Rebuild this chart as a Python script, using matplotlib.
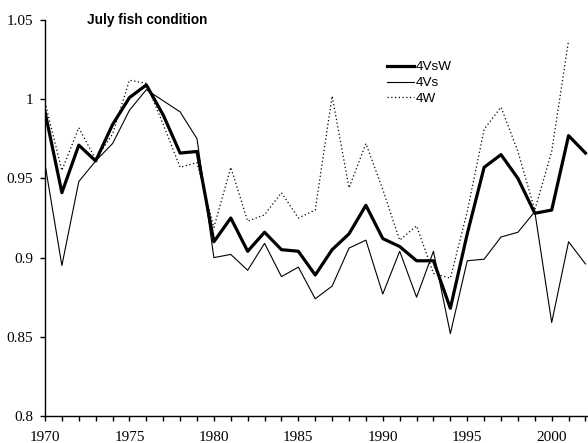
import numpy as np
import matplotlib
matplotlib.use('Agg')
import matplotlib.pyplot as plt
from matplotlib.ticker import MultipleLocator

# dados (condicao dos peixes em julho)
anos = np.arange(1970, 2003)

c_4vsw = [0.992, 0.941, 0.971, 0.961, 0.984, 1.001, 1.009, 0.990, 0.966, 0.967,
          0.910, 0.925, 0.904, 0.916, 0.905, 0.904, 0.889, 0.905, 0.915, 0.933,
          0.912, 0.907, 0.898, 0.898, 0.868, 0.915, 0.957, 0.965, 0.950, 0.928,
          0.930, 0.977, 0.966]

c_4vs = [0.959, 0.895, 0.948, 0.961, 0.972, 0.993, 1.006, 0.999, 0.992, 0.975,
         0.900, 0.902, 0.892, 0.909, 0.888, 0.894, 0.874, 0.882, 0.906, 0.911,
         0.877, 0.904, 0.875, 0.904, 0.852, 0.898, 0.899, 0.913, 0.916, 0.929,
         0.859, 0.910, 0.896]

c_4w = [0.998, 0.955, 0.982, 0.962, 0.978, 1.012, 1.010, 0.984, 0.957, 0.960,
        0.919, 0.957, 0.923, 0.927, 0.941, 0.925, 0.930, 1.002, 0.944, 0.972,
        0.943, 0.911, 0.920, 0.890, 0.887, 0.929, 0.981, 0.995, 0.967, 0.930,
        0.967, 1.037, np.nan]

series_nomes = ['4VsW', '4Vs', '4W']

W, H = 588, 443
fig = plt.figure(figsize=(W / 100, H / 100), dpi=100)
ax = fig.add_axes([45 / W, 27 / H, 543 / W, 396 / H])

ax.plot(anos, c_4vsw, color='black', lw=2.3, label=series_nomes[0])
ax.plot(anos, c_4vs, color='black', lw=0.8, label=series_nomes[1])
ax.plot(anos, c_4w, color='black', lw=0.9, ls=(0, (1, 2)), label=series_nomes[2])

ax.set_xlim(1970, 2002.15)
ax.set_ylim(0.8, 1.05)
ax.set_xticks([1970, 1975, 1980, 1985, 1990, 1995, 2000])
ax.xaxis.set_minor_locator(MultipleLocator(1))
ax.set_yticks([0.8, 0.85, 0.9, 0.95, 1.0, 1.05])
ax.set_yticklabels(['0.8', '0.85', '0.9', '0.95', '1', '1.05'])

for s in ['top', 'right']:
    ax.spines[s].set_visible(False)
for s in ['left', 'bottom']:
    ax.spines[s].set_linewidth(1.0)

ax.tick_params(axis='both', which='both', direction='out', width=1.0,
               labelsize=11, labelfontfamily='Liberation Serif')
ax.tick_params(axis='x', which='both', length=3.5, pad=7.5)
ax.tick_params(axis='y', which='major', length=3.5, pad=5)

# titulo dentro da area do grafico
ax.text(87 / W, 1 - 20 / H, 'July fish condition', transform=fig.transFigure,
        fontsize=9.8, fontweight='bold', family='Liberation Sans',
        ha='left', va='center')

leg = ax.legend(loc='upper left', bbox_to_anchor=(387 / W, 1 - 61 / H),
                bbox_transform=fig.transFigure, frameon=False,
                prop={'family': 'Liberation Sans', 'size': 9.7},
                handlelength=2.0, handletextpad=0.15, labelspacing=0.25,
                borderpad=0, borderaxespad=0)

fig.savefig('out.png', dpi=100)
